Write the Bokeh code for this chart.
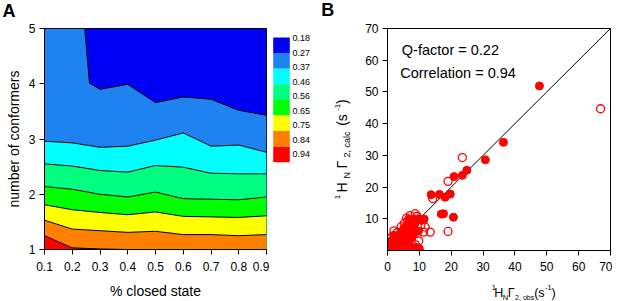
import math
from bokeh.plotting import figure
from bokeh.layouts import row, column
from bokeh.models import Range1d, FixedTicker, Label
from bokeh.embed import file_html
from bokeh.resources import INLINE

FONT = "Liberation Sans"

# ---------------- Panel A data ----------------
closed_frac = [0.1, 0.2, 0.3, 0.4, 0.5, 0.6, 0.7, 0.8, 0.9]
conformer_ticks = [1, 2, 3, 4, 5]
level_labels = ["0.18", "0.27", "0.37", "0.46", "0.56", "0.65", "0.75", "0.84", "0.94"]
band_colors = ["#0000F5", "#1E82F0", "#00FFFF", "#00FF80", "#00FF00", "#FFFF00", "#FF8000", "#FF0000"]

# contour boundaries (upper edge of each band, from top band downwards)
bound_blue_x = [0.1, 0.2, 0.245, 0.262, 0.3, 0.4, 0.5, 0.6, 0.7, 0.8, 0.9]
bound_blue_y = [5.0, 5.0, 5.0, 4.01, 3.90, 3.99, 3.66, 3.76, 3.72, 3.52, 3.43]
bound_cyan = [2.96, 2.93, 2.85, 2.87, 2.98, 3.11, 2.87, 2.89, 2.76]
bound_sgreen = [2.55, 2.51, 2.43, 2.40, 2.52, 2.49, 2.38, 2.37, 2.37]
bound_green = [2.14, 2.09, 2.00, 1.95, 2.04, 1.92, 1.91, 1.90, 1.95]
bound_yellow = [1.81, 1.72, 1.67, 1.63, 1.68, 1.60, 1.59, 1.58, 1.61]
bound_orange = [1.53, 1.37, 1.34, 1.31, 1.33, 1.27, 1.27, 1.25, 1.27]
bound_red_x = [0.1, 0.2, 0.3, 0.4]
bound_red_y = [1.25, 1.03, 1.01, 1.0]

# ---------------- Panel B data ----------------
obs_filled = [47.7, 36.4, 30.7, 24.9, 23.5, 20.9, 19.7, 18.1, 16.3, 13.7, 16.9, 17.6, 20.7,
              11.5, 10.5, 9.7, 8.8, 8.0, 7.2, 6.6, 9.7,
              0.3, 0.8, 0.5, 1.0, 1.3, 1.6, 1.9, 2.2, 2.4, 2.7, 3.0, 3.1, 3.4, 3.7, 3.9, 4.1,
              4.3, 4.6, 4.8, 5.0, 5.2, 5.5, 5.7, 5.9, 6.1, 6.3, 6.6, 6.8, 7.1, 7.4, 7.6, 7.9,
              8.3, 8.6, 9.1, 9.4, 10.0, 2.0, 1.2, 3.3, 4.5, 5.6, 6.4, 8.2]
calc_filled = [51.9, 34.1, 28.6, 25.3, 23.7, 23.3, 17.8, 16.8, 17.7, 17.6, 11.5, 11.6, 10.5,
               9.9, 9.5, 10.0, 9.6, 9.9, 9.5, 9.8, 6.1,
               0.5, 1.2, 2.0, 3.0, 0.4, 1.6, 2.6, 0.8, 3.5, 1.9, 4.4, 0.6, 2.8, 5.0, 1.4, 3.7,
               6.0, 0.9, 2.3, 4.6, 7.0, 1.5, 3.3, 5.6, 8.0, 0.5, 2.4, 6.5, 8.6, 1.2, 4.0, 7.4,
               0.6, 8.5, 1.0, 0.4, 0.5, 4.8, 2.2, 1.2, 5.2, 2.8, 4.2, 5.3]
obs_open = [66.9, 23.5, 19.0, 14.2, 19.0, 13.4, 11.3, 0.4, 1.2, 2.0, 3.0, 4.3, 5.3, 6.0, 7.1,
            8.7, 9.3, 10.5, 11.8, 9.8, 8.8, 6.9, 5.2, 2.5, 3.6, 1.5]
calc_open = [44.7, 29.3, 21.8, 16.4, 6.0, 5.8, 5.8, 3.6, 4.2, 6.2, 5.6, 7.5, 8.6, 10.2, 11.0,
             11.6, 10.8, 8.0, 7.4, 3.0, 1.8, 0.9, 1.0, 1.0, 0.3, 0.5]
axis_ticks_b = [0, 10, 20, 30, 40, 50, 60, 70]
q_factor = 0.22
correlation = 0.94

# ---------------- layout geometry (page px) ----------------
W_TOTAL, H_TOTAL = 612, 301
STRIP_H = 21
BORDER_TOP = 7             # frames start at y = 28
A_LEFT, A_FW, A_FH, A_RIGHT = 44, 222, 221, 3
A_W = A_LEFT + A_FW + A_RIGHT              # 269
CB_W, YL_W = 44, 42
B_X0 = A_W + CB_W + YL_W                   # 355
B_LEFT, B_FW, B_FH = 32, 223, 222
B_W = W_TOTAL - B_X0                       # 257
B_BOTTOM = 27
B_H = BORDER_TOP + B_FH + B_BOTTOM         # 256
XL_H = H_TOTAL - STRIP_H - B_H             # 24
MID = 0.35                                 # baseline -> visual middle, in em


def style_axes(p, size="12px"):
    p.grid.visible = False
    p.outline_line_color = "black"
    p.outline_line_width = 1
    for ax in p.axis:
        ax.major_label_text_font = FONT
        ax.major_label_text_font_size = size
        ax.major_label_text_color = "black"
        ax.axis_label_text_font = FONT
        ax.axis_label_text_font_style = "normal"
        ax.axis_label_text_color = "black"
        ax.minor_tick_line_color = None
        ax.major_tick_in = 0
        ax.major_tick_out = 5
        ax.axis_line_color = "black"
        ax.major_tick_line_color = "black"


def text_fig(x0, y0, w, h):
    """A frame-only figure whose data coordinates equal page pixels."""
    f = figure(frame_width=w, frame_height=h, min_border=0,
               x_range=Range1d(x0, x0 + w), y_range=Range1d(y0 + h, y0),
               x_axis_type=None, y_axis_type=None,
               output_backend="svg", toolbar_location=None)
    f.grid.visible = False
    f.outline_line_color = None
    return f


def put(f, x, y, text, size, rotated=False, bold=False):
    """(x, y) = start of the text on its baseline, in page px."""
    if rotated:
        x, angle = x - MID * size, math.pi / 2
    else:
        y, angle = y - MID * size, 0.0
    f.add_layout(Label(x=x, y=y, text=text, text_font=FONT, text_font_size=f"{size}px",
                       text_font_style="bold" if bold else "normal", text_color="black",
                       angle=angle, text_align="left", text_baseline="middle"))


# ---------------- top strip: panel letters ----------------
pT = text_fig(0, 0, W_TOTAL, STRIP_H)
put(pT, 2, 17, "A", 18, bold=True)
put(pT, 320.7, 15.5, "B", 18, bold=True)

# ---------------- Panel A ----------------
pA = figure(frame_width=A_FW, frame_height=A_FH, min_border_left=A_LEFT, min_border_right=A_RIGHT,
            min_border_top=BORDER_TOP,
            min_border_bottom=H_TOTAL - STRIP_H - BORDER_TOP - A_FH,
            x_range=Range1d(closed_frac[0], closed_frac[-1]),
            y_range=Range1d(conformer_ticks[0], conformer_ticks[-1]),
            output_backend="svg", toolbar_location=None)
pA.background_fill_color = band_colors[0]
ymin = conformer_ticks[0]
pA.varea(x=bound_blue_x, y1=ymin, y2=bound_blue_y, fill_color=band_colors[1])
lower_bounds = [bound_cyan, bound_sgreen, bound_green, bound_yellow, bound_orange]
for i, b in enumerate(lower_bounds):
    pA.varea(x=closed_frac, y1=ymin, y2=b, fill_color=band_colors[i + 2])
pA.varea(x=bound_red_x, y1=ymin, y2=bound_red_y, fill_color=band_colors[7])
pA.line(bound_blue_x, bound_blue_y, line_color="black", line_width=1)
for b in lower_bounds:
    pA.line(closed_frac, b, line_color="black", line_width=1)
pA.line(bound_red_x, bound_red_y, line_color="black", line_width=1)

style_axes(pA)
pA.xaxis.ticker = FixedTicker(ticks=closed_frac)
pA.yaxis.ticker = FixedTicker(ticks=conformer_ticks)
pA.xaxis.axis_label = "% closed state"
pA.yaxis.axis_label = "number of conformers"
for ax in pA.axis:
    ax.axis_label_text_font_size = "14px"
pA.xaxis.major_label_standoff = 7
pA.xaxis.axis_label_standoff = 9
pA.yaxis.major_label_standoff = 4
pA.yaxis.axis_label_standoff = 4

# ---------------- Colour bar ----------------
pC = text_fig(A_W, STRIP_H, CB_W, H_TOTAL - STRIP_H)
n_band = len(band_colors)
box_top, box_h = 30.0, 15.6
pC.quad(left=272.7, right=289.3,
        top=[box_top + i * box_h for i in range(n_band)],
        bottom=[box_top + (i + 1) * box_h for i in range(n_band)],
        fill_color=band_colors, line_color=None)
lab_step = 14.5
pC.text(x=292, y=[box_top + 0.7 + i * lab_step for i in range(len(level_labels))],
        text=level_labels, text_font={"value": FONT}, text_font_size="9px",
        text_baseline="middle", text_align="left", text_color="black")

# ---------------- Panel B y label: 1H_N Γ_2,calc (s-1) ----------------
pY = text_fig(A_W + CB_W, STRIP_H, YL_W, H_TOTAL - STRIP_H)
put(pY, 340.0, 191.7, "1", 8, rotated=True)
put(pY, 346.7, 185.0, "H", 14, rotated=True)
put(pY, 349.3, 171.0, "N", 9, rotated=True)
put(pY, 346.7, 161.0, "Γ", 14, rotated=True)
put(pY, 349.3, 150.0, "2, calc", 9, rotated=True)
put(pY, 346.7, 118.3, "(s", 14, rotated=True)
put(pY, 340.0, 103.3, "-1", 8, rotated=True)
put(pY, 346.7, 96.5, ")", 14, rotated=True)

# ---------------- Panel B ----------------
lim = axis_ticks_b[-1]
pB = figure(frame_width=B_FW, frame_height=B_FH, min_border_left=B_LEFT,
            min_border_right=B_W - B_LEFT - B_FW,
            min_border_top=BORDER_TOP, min_border_bottom=B_BOTTOM,
            x_range=Range1d(0, lim), y_range=Range1d(0, lim),
            output_backend="svg", toolbar_location=None)
style_axes(pB)
pB.xaxis.ticker = FixedTicker(ticks=axis_ticks_b)
pB.yaxis.ticker = FixedTicker(ticks=axis_ticks_b[1:])
pB.xaxis.major_label_standoff = 6
pB.yaxis.major_label_standoff = 4

pB.line([0, lim], [0, lim], line_color="black", line_width=1)
pB.scatter(obs_filled, calc_filled, size=8, fill_color="red", line_color="red", line_width=1)
pB.scatter(obs_open, calc_open, size=8, fill_color=None, line_color="red", line_width=1.3)

pB.add_layout(Label(x=4.5, y=63.1, text=f"Q-factor = {q_factor:.2f}", text_font=FONT,
                    text_font_size="14.5px", text_baseline="middle", text_color="black"))
pB.add_layout(Label(x=4.0, y=56.1, text=f"Correlation = {correlation:.2f}", text_font=FONT,
                    text_font_size="14.5px", text_baseline="middle", text_color="black"))

# ---------------- Panel B x label: 1H_N Γ_2,obs (s-1) ----------------
pX = text_fig(B_X0, STRIP_H + B_H, B_W, XL_H)
put(pX, 459.3, 289.5, "1", 7.5)
put(pX, 461.7, 297.3, "H", 12.5)
put(pX, 470.3, 299.6, "N", 7.5)
put(pX, 475.3, 297.3, "Γ", 12.5)
put(pX, 482.6, 299.6, "2, obs", 7)
put(pX, 501.7, 297.3, "(s", 12.5)
put(pX, 512.6, 290.0, "-1", 7.5)
put(pX, 519.0, 297.3, ")", 12.5)

layout = column(pT, row(pA, pC, pY, column(pB, pX)))
open("out.html", "w").write(file_html(layout, INLINE))
